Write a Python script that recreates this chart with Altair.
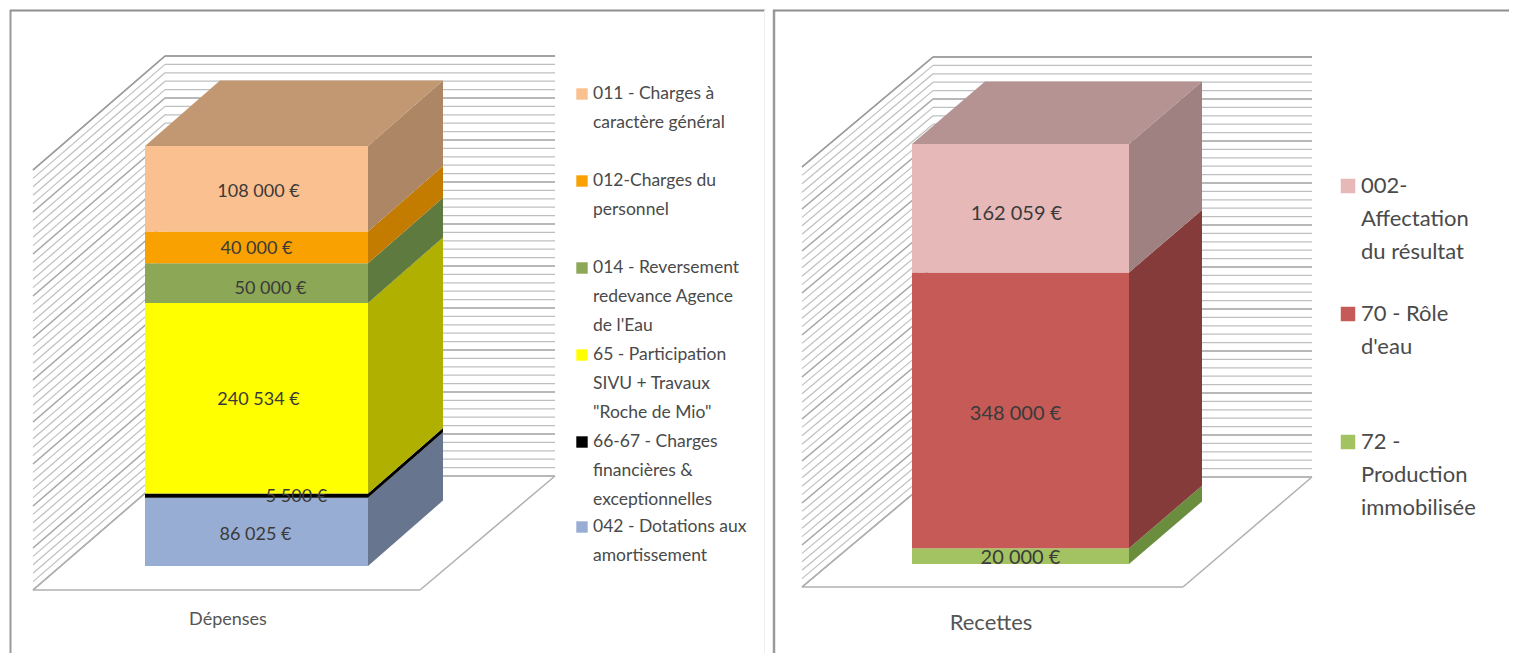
import altair as alt
import pandas as pd

# ---------- data ----------
dep_values = [86025, 5500, 240534, 50000, 40000, 108000]
dep_text = ["86 025 €", "5 500 €", "240 534 €", "50 000 €", "40 000 €", "108 000 €"]
dep_front = ["#98ADD3", "#000000", "#FFFF00", "#8CA755", "#F9A100", "#FAC090"]
dep_side = ["#67758F", "#000000", "#B0B000", "#5F7A3E", "#C47C00", "#AD8665"]
dep_top = "#C29873"
dep_legend = [["011 - Charges à", "caractère général"], ["012-Charges du", "personnel"],
              ["014 - Reversement", "redevance Agence", "de l'Eau"],
              ["65 - Participation", "SIVU + Travaux", "\"Roche de Mio\""],
              ["66-67 - Charges", "financières &", "exceptionnelles"],
              ["042 - Dotations aux", "amortissement"]]
dep_legend_colors = ["#FAC090", "#F9A100", "#8CA755", "#FFFF00", "#000000", "#98ADD3"]

rec_values = [20000, 348000, 162059]
rec_text = ["20 000 €", "348 000 €", "162 059 €"]
rec_front = ["#A3C262", "#C55A57", "#E6B9B8"]
rec_side = ["#6B8E3E", "#843B3A", "#9E8180"]
rec_top = "#B59392"
rec_legend = [["002-", "Affectation", "du résultat"], ["70 - Rôle", "d'eau"], ["72 -", "Production", "immobilisée"]]
rec_legend_colors = ["#E6B9B8", "#C55A57", "#A3C262"]

N_GRID = 50
AXIS_MAX = 530059
FONT = "Lato"
PX_PER_EURO = 420 / AXIS_MAX
H = 648


def panel(cfg):
    ox, W, y0 = cfg["ox"], cfg["W"], cfg["y0"]
    ex = lambda px: px - ox                      # page pixel -> panel x
    ev = lambda py: (y0 - py) / PX_PER_EURO      # page pixel -> euro level
    xs = alt.Scale(domain=[0, W], nice=False, zero=False)
    ys = alt.Scale(domain=[ev(H + 8), ev(8)], nice=False, zero=False)
    X = alt.X("x:Q", scale=xs, axis=None)
    Y = alt.Y("y:Q", scale=ys, axis=None, stack=None)
    layers = []

    def rules(rows, color, sw):
        df = pd.DataFrame(rows, columns=["x", "x2", "y", "y2"])
        return alt.Chart(df).mark_rule(color=color, strokeWidth=sw).encode(x=X, x2="x2:Q", y=Y, y2="y2:Q")

    # frame
    for (x1, x2, p1, p2), c, sw in cfg["frame"]:
        layers.append(rules([[ex(x1), ex(x2), ev(p1), ev(p2)]], c, sw))

    # walls
    wl, wb, wr, fy, by = cfg["wall_left"], cfg["wall_back"], cfg["wall_right"], cfg["floor_y"], cfg["back_y"]
    fr = cfg["floor_right"]
    back, side = [], []
    for i in range(N_GRID + 1):
        step = 420 * i / N_GRID
        back.append([ex(wb), ex(wr), ev(by - step), ev(by - step)])
        side.append([ex(wl), ex(wb), ev(fy - step), ev(by - step)])
    layers.append(rules(side, "#BDBFC1", 1.2))
    layers.append(rules(back, "#BDBFC1", 1.2))
    layers.append(rules(side[::5] + back[::5], "#ABABAB", 1.3))
    layers.append(rules([side[-1], back[-1]], "#9C9C9C", 1.5))
    layers.append(rules([[ex(wl), ex(fr), ev(fy), ev(fy)], [ex(fr), ex(wr), ev(fy), ev(by)],
                         [ex(wl), ex(wb), ev(fy), ev(by)]], "#B0B0B0", 1.5))

    # box
    xl, xr, dx, dy = ex(cfg["xl"]), ex(cfg["xr"]), cfg["dx"], cfg["dy"] / PX_PER_EURO
    values, front, sidec = cfg["values"], cfg["front"], cfg["side"]
    base, fr_rows, si_rows, lb_rows = 0, [], [], []
    for i, v in enumerate(values):
        fr_rows.append(dict(x=xl, x2=xr, y=base, y2=base + v, c=front[i]))
        for xx, off in ((xr, 0), (xr + dx, dy)):
            si_rows.append(dict(cat=i, x=xx, y=base + off, y2=base + v + off, c=sidec[i]))
        lb_rows.append(dict(x=(xl + xr) / 2 + cfg["label_dx"][i], y=base + v / 2 - cfg["label_dy"][i] / PX_PER_EURO,
                            t=cfg["text"][i]))
        base += v
    layers.append(alt.Chart(pd.DataFrame(si_rows)).mark_area(interpolate="linear").encode(
        x=X, y=Y, y2="y2:Q", detail="cat:N", color=alt.Color("c:N", scale=None)))
    top = pd.DataFrame([dict(y=base, x=xl, x2=xr), dict(y=base + dy, x=xl + dx, x2=xr + dx)])
    layers.append(alt.Chart(top).mark_area(orient="horizontal", color=cfg["top"]).encode(
        y=Y, x=X, x2="x2:Q"))
    layers.append(alt.Chart(pd.DataFrame(fr_rows)).mark_rect().encode(
        x=X, x2="x2:Q", y=Y, y2="y2:Q", color=alt.Color("c:N", scale=None)))
    layers.append(alt.Chart(pd.DataFrame(lb_rows)).mark_text(
        font=FONT, fontSize=cfg["label_fs"], color="#3A3A3A", baseline="middle", align="center").encode(
        x=X, y=Y, text="t:N"))

    # category title
    layers.append(alt.Chart(pd.DataFrame([dict(x=ex(cfg["cat_x"]), y=ev(cfg["cat_y"]), t=cfg["cat"])])).mark_text(
        font=FONT, fontSize=cfg["cat_fs"], color="#555555", baseline="middle", align="center").encode(
        x=X, y=Y, text="t:N"))

    # legend
    ln_rows, sq_rows = [], []
    for lines, color, ly in zip(cfg["legend"], cfg["legend_colors"], cfg["legend_y"]):
        sq_rows.append(dict(x=ex(cfg["sq_x"]), y=ev(ly), c=color))
        for j, s in enumerate(lines):
            ln_rows.append(dict(x=ex(cfg["tx_x"]), y=ev(ly + j * cfg["lh"]), t=s))
    layers.append(alt.Chart(pd.DataFrame(sq_rows)).mark_point(
        shape="square", filled=True, opacity=1, size=cfg["sq_size"]).encode(
        x=X, y=Y, color=alt.Color("c:N", scale=None)))
    layers.append(alt.Chart(pd.DataFrame(ln_rows)).mark_text(
        font=FONT, fontSize=cfg["leg_fs"], color="#4A4A4A", baseline="middle", align="left").encode(
        x=X, y=Y, text="t:N"))
    return alt.layer(*layers).properties(width=W, height=H)


left = panel(dict(
    ox=8, W=760, y0=566, xl=145, xr=368, dx=75, dy=65.5,
    wall_left=33, wall_back=165, wall_right=555, floor_y=590, back_y=476, floor_right=420,
    frame=[([10.5, 10.5, 10, 653], "#9A9A9A", 2), ([10, 765, 10.5, 10.5], "#8E8E8E", 2), ([764.5, 764.5, 10, 653], "#EEEEEE", 1)],
    values=dep_values, front=dep_front, side=dep_side, top=dep_top, text=dep_text,
    label_dx=[-1, 40, 2, 14, 0, 2], label_dy=[3, 1, 1.5, 5.5, 2, 3], label_fs=18,
    cat="Dépenses", cat_x=228, cat_y=620, cat_fs=18,
    legend=dep_legend, legend_colors=dep_legend_colors, legend_y=[94, 181, 268, 355, 442, 527], lh=29,
    sq_x=582, tx_x=593, sq_size=130, leg_fs=17.5,
))

right = panel(dict(
    ox=768, W=743, y0=564, xl=912, xr=1129, dx=73, dy=62.5,
    wall_left=802, wall_back=933, wall_right=1312, floor_y=587, back_y=477, floor_right=1183,
    frame=[([774, 774, 10, 653], "#9A9A9A", 2.5), ([773, 1509, 10.5, 10.5], "#8E8E8E", 2)],
    values=rec_values, front=rec_front, side=rec_side, top=rec_top, text=rec_text,
    label_dx=[0, -5, -4], label_dy=[2, 4, 6], label_fs=20,
    cat="Recettes", cat_x=991, cat_y=623, cat_fs=22,
    legend=rec_legend, legend_colors=rec_legend_colors, legend_y=[186, 314, 442], lh=33,
    sq_x=1348, tx_x=1361, sq_size=210, leg_fs=22,
))

chart = alt.hconcat(left, right, spacing=0, bounds="flush").properties(
    padding=0, background="white"
).configure_view(stroke=None)

chart.save("out.html", embed_options={"renderer": "svg", "actions": False})
